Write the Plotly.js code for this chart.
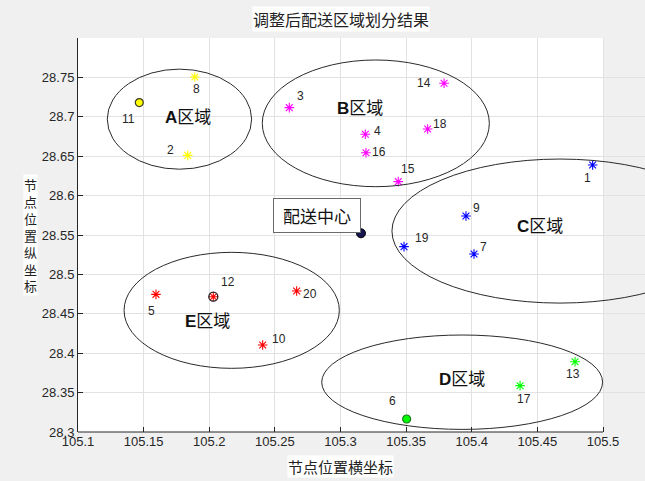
<!DOCTYPE html>
<html><head><meta charset="utf-8">
<script src="https://cdn.plot.ly/plotly-3.0.1.min.js"></script>
<style>html,body{margin:0;padding:0;background:#f0f0f0;} #chart{width:645px;height:481px;}</style>
</head><body><div id="chart"></div>
<script>
// ---------------- data ----------------
const nodeIds = [1,2,3,4,5,6,7,8,9,10,11,12,13,14,15,16,17,18,19,20];
const nodeX = [105.4921,105.1836,105.2610,105.3189,105.1594,105.3504,105.4017,105.1890,105.3956,105.2407,
               105.1467,105.2031,105.4787,105.3789,105.3440,105.3194,105.4368,105.3664,105.3484,105.2666];
const nodeY = [28.6388,28.6510,28.7116,28.6778,28.4747,28.3165,28.5259,28.7505,28.5741,28.4104,
               28.7180,28.4717,28.3892,28.7425,28.6177,28.6544,28.3588,28.6845,28.5352,28.4789];
const nodeRegion = ['C','A','B','B','E','D','C','A','C','E','A','E','D','B','B','B','D','B','C','E'];
const hubIds = [11, 12, 6];
const depotName = '配送中心';
const depotX = [105.3156];
const depotY = [28.5522];
const regionNames = ['A','B','C','D','E'];
const regionCx = [105.1773,105.3269,105.4672,105.3927,105.2171];
const regionCy = [28.6970,28.6917,28.5550,28.3632,28.4544];
const regionRx = [0.0550,0.0865,0.1280,0.1070,0.0820];
const regionRy = [0.0635,0.0804,0.0914,0.0599,0.0736];
const regionLabelX = [105.1840,105.3149,105.4520,105.3925,105.1990];
const regionLabelY = [28.6990,28.7108,28.5614,28.3668,28.4400];
const titleText = '调整后配送区域划分结果';
const xTitle = '节点位置横坐标';
const yTitle = '节点位置纵坐标';
const xTickVals = [105.1,105.15,105.2,105.25,105.3,105.35,105.4,105.45,105.5];
const xTickText = ['105.1','105.15','105.2','105.25','105.3','105.35','105.4','105.45','105.5'];
const yTickVals = [28.3,28.35,28.4,28.45,28.5,28.55,28.6,28.65,28.7,28.75];
const yTickText = ['28.3','28.35','28.4','28.45','28.5','28.55','28.6','28.65','28.7','28.75'];

// ---------------- styles ----------------
const regionColors = {A:'#ffff00', B:'#ff00ff', C:'#0000ff', D:'#00ff00', E:'#ff0000'};
const hubStyle = {11:'filled', 12:'ring', 6:'filled'};
const hubEdge = {11:'#3a3a20', 12:'#202020', 6:'#1f7a1f'};
// label offsets in pixels (x right, y up), indexed by node id - 1
const labelDX = [-5,-17,11,12,-4,-14,10,2,11,16,-11,15,-2,-20,10,13,4,12,18,13];
const labelDY = [-13,5,12,3,-17,18,7,-12,8,6,-16,15,-12,0,13,1,-13,5,9,-3];
const latin = 'Liberation Sans, Arial, Helvetica, sans-serif';
const cjk = 'Liberation Sans, Noto Sans CJK SC, sans-serif';

const traces = [];
// stars per region
regionNames.forEach(r => {
  const xs = [], ys = [];
  nodeIds.forEach((id, i) => {
    if (nodeRegion[i] === r && hubStyle[id] !== 'filled') { xs.push(nodeX[i]); ys.push(nodeY[i]); }
  });
  traces.push({type:'scatter', mode:'markers', x:xs, y:ys, hoverinfo:'skip', cliponaxis:false,
    marker:{symbol:'asterisk-open', size:8, color:regionColors[r], line:{color:regionColors[r], width:1.1}}});
});
// hub circles
hubIds.forEach(id => {
  const i = nodeIds.indexOf(id);
  const col = regionColors[nodeRegion[i]];
  if (hubStyle[id] === 'filled') {
    traces.push({type:'scatter', mode:'markers', x:[nodeX[i]], y:[nodeY[i]], hoverinfo:'skip', cliponaxis:false,
      marker:{symbol:'circle', size:8, color:col, line:{color:hubEdge[id], width:1.2}}});
  } else {
    traces.push({type:'scatter', mode:'markers', x:[nodeX[i]], y:[nodeY[i]], hoverinfo:'skip', cliponaxis:false,
      marker:{symbol:'circle-open', size:9, color:hubEdge[id], line:{color:hubEdge[id], width:1.3}}});
  }
});
// depot
traces.push({type:'scatter', mode:'markers', x:depotX, y:depotY, hoverinfo:'skip', cliponaxis:false,
  marker:{symbol:'circle', size:9, color:'#16164e', line:{color:'#000000', width:1}}});

const shapes = [];
// cover beyond 105.5 (figure area right of axes)
shapes.push({type:'rect', xref:'x', yref:'paper', x0:xTickVals[xTickVals.length-1], x1:105.7, y0:0, y1:1,
  fillcolor:'#f0f0f0', line:{width:0}, layer:'between'});
// bottom axis line
shapes.push({type:'line', xref:'x', yref:'paper', x0:xTickVals[0], x1:xTickVals[xTickVals.length-1], y0:0, y1:0,
  line:{color:'#262626', width:1}, layer:'above'});
// region ellipses
regionNames.forEach((r, k) => {
  shapes.push({type:'circle', xref:'x', yref:'y',
    x0:regionCx[k]-regionRx[k], x1:regionCx[k]+regionRx[k],
    y0:regionCy[k]-regionRy[k], y1:regionCy[k]+regionRy[k],
    line:{color:'#2a2a2a', width:1}, layer:'above'});
});

const annotations = [];
nodeIds.forEach((id, i) => {
  annotations.push({x:nodeX[i], y:nodeY[i], xref:'x', yref:'y', text:String(id), showarrow:false,
    xshift:labelDX[i], yshift:labelDY[i], font:{family:latin, size:12, color:'#262626'}});
});
regionNames.forEach((r, k) => {
  annotations.push({x:regionLabelX[k], y:regionLabelY[k], xref:'x', yref:'y',
    text:'<b>'+r+'</b>区域', showarrow:false, font:{family:cjk, size:17, color:'#111111'}});
});
annotations.push({x:depotX[0], y:depotY[0], xref:'x', yref:'y', text:depotName, showarrow:false,
  xanchor:'right', yanchor:'bottom', bgcolor:'#ffffff', bordercolor:'#6a6a6a', borderwidth:1, borderpad:5,
  width:76, height:23,
  font:{family:'Noto Sans CJK SC, sans-serif', size:17, color:'#111111'}});
annotations.push({x:(xTickVals[0]+xTickVals[xTickVals.length-1])/2, y:1, xref:'x', yref:'paper', text:titleText,
  showarrow:false, yanchor:'bottom', yshift:6, bgcolor:'#ffffff', borderpad:0,
  font:{family:'Noto Sans CJK SC, sans-serif', size:16, color:'#222222'}});
annotations.push({x:(xTickVals[0]+xTickVals[xTickVals.length-1])/2, y:0, xref:'x', yref:'paper', text:xTitle,
  showarrow:false, yanchor:'top', yshift:-23, bgcolor:'#ffffff', borderpad:0,
  font:{family:'Noto Sans CJK SC, sans-serif', size:15, color:'#222222'}});
annotations.push({x:0, y:0.5, xref:'paper', yref:'paper', text:yTitle.split('').join('<br>'),
  showarrow:false, xanchor:'center', yanchor:'middle', xshift:-48, bgcolor:'#ffffff', borderpad:0,
  font:{family:'Noto Sans CJK SC, sans-serif', size:13, color:'#222222'}});

const layout = {
  width:645, height:481,
  margin:{l:78, r:0, t:38, b:49, pad:0},
  paper_bgcolor:'#f0f0f0', plot_bgcolor:'#ffffff',
  showlegend:false,
  xaxis:{range:[105.1, 105.532], tickvals:xTickVals, ticktext:xTickText, ticks:'inside', ticklen:5,
    tickcolor:'#262626', showgrid:true, gridcolor:'#e2e2e2', gridwidth:1, showline:false, zeroline:false,
    tickfont:{family:latin, size:13, color:'#262626'}, fixedrange:true},
  yaxis:{range:[28.3, 28.8], tickvals:yTickVals, ticktext:yTickText, ticks:'inside', ticklen:5,
    tickcolor:'#262626', showgrid:true, gridcolor:'#e2e2e2', gridwidth:1, showline:true, linecolor:'#262626',
    linewidth:1, zeroline:false, tickfont:{family:latin, size:13, color:'#262626'}, fixedrange:true},
  shapes:shapes,
  annotations:annotations
};
Plotly.newPlot('chart', traces, layout, {staticPlot:true, displayModeBar:false});
</script>
</body></html>
